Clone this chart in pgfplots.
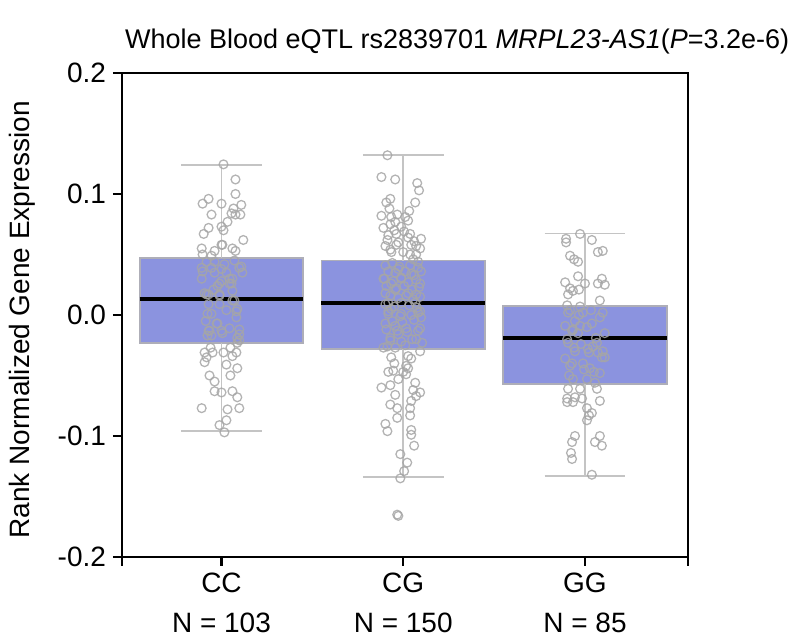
\documentclass[border=0pt]{standalone}
\usepackage{fontspec}
\setmainfont{Liberation Sans}
\usepackage{pgfplots}
\usepackage{pgfplotstable}
\pgfplotsset{compat=1.18}

\definecolor{boxfill}{HTML}{8B93DF}
\definecolor{boxedge}{HTML}{AEAEB8}
\definecolor{whisk}{HTML}{C4C4C4}
\definecolor{ptgray}{HTML}{A6A6A6}

% box statistics: lower whisker, lower quartile, median, upper quartile, upper whisker
% CC: -0.096 -0.023 0.013 0.047 0.124
% CG: -0.134 -0.028 0.010 0.045 0.132
% GG: -0.133 -0.057 -0.019 0.0075 0.0675

% whisker stems and caps (nan breaks the line)
\pgfplotstableread{
x y
1 0.047
1 0.124
nan nan
0.7775 0.124
1.2225 0.124
nan nan
1 -0.023
1 -0.096
nan nan
0.7775 -0.096
1.2225 -0.096
nan nan
2 0.045
2 0.132
nan nan
1.7775 0.132
2.2225 0.132
nan nan
2 -0.028
2 -0.134
nan nan
1.7775 -0.134
2.2225 -0.134
nan nan
3 0.0075
3 0.0675
nan nan
2.7775 0.0675
3.2225 0.0675
nan nan
3 -0.057
3 -0.133
nan nan
2.7775 -0.133
3.2225 -0.133
}\whiskers

% jittered points: x = category position + jitter, y = expression
\pgfplotstableread{
x y
1.011 0.1245
1.077 0.112
1.077 0.100
0.929 0.096
0.896 0.092
1.000 0.092
1.109 0.091
1.066 0.088
1.055 0.084
1.104 0.083
0.945 0.083
1.077 0.083
1.033 0.077
0.929 0.072
0.902 0.067
1.011 0.070
1.000 0.073
1.000 0.058
0.891 0.055
0.962 0.053
1.060 0.055
1.077 0.053
0.896 0.050
1.120 0.062
0.962 0.044
1.016 0.042
0.891 0.039
1.109 0.040
0.962 0.035
1.027 0.035
0.891 0.030
1.060 0.030
1.115 0.035
1.000 0.028
0.978 0.024
1.044 0.026
0.907 0.018
1.060 0.020
0.918 0.017
0.989 0.016
1.071 0.012
0.923 0.001
1.082 0.003
0.978 -0.007
1.098 -0.012
0.934 -0.013
1.087 -0.019
1.005 -0.015
0.923 -0.017
1.087 -0.023
0.896 0.036
0.945 0.039
1.000 0.038
1.044 0.030
1.098 0.039
0.989 0.026
1.055 0.026
0.929 0.017
0.989 0.017
1.060 0.012
0.929 0.009
0.989 0.009
1.087 0.005
0.945 0.001
1.082 -0.002
0.973 -0.007
1.044 -0.011
0.929 -0.013
1.000 -0.013
1.098 -0.016
0.945 -0.017
1.098 -0.021
0.945 0.049
1.005 0.058
0.918 0.044
1.071 0.045
0.956 0.021
1.027 0.004
0.913 -0.005
1.049 -0.027
0.907 -0.031
0.951 -0.031
0.918 -0.035
0.907 -0.039
1.011 -0.031
1.082 -0.031
1.060 -0.034
1.027 -0.041
1.087 -0.044
0.934 -0.050
0.962 -0.055
1.049 -0.050
0.962 -0.063
1.000 -0.064
1.060 -0.063
1.087 -0.068
0.891 -0.077
1.033 -0.078
1.098 -0.077
1.027 -0.087
0.989 -0.091
1.016 -0.097
0.940 -0.027
}\ccpts

\pgfplotstableread{
x y
1.913 0.132
1.880 0.114
1.956 0.112
2.077 0.109
2.087 0.103
1.929 0.096
1.907 0.093
1.880 0.082
1.934 0.081
1.967 0.083
2.011 0.081
2.027 0.078
1.891 0.072
1.929 0.075
1.956 0.077
1.989 0.073
2.038 0.067
1.918 0.066
1.962 0.067
2.098 0.063
1.902 0.057
1.929 0.054
1.962 0.058
2.044 0.058
2.071 0.057
2.093 0.055
2.000 0.052
2.038 0.050
2.055 0.046
2.082 0.044
2.066 0.093
1.924 0.088
2.033 0.086
1.951 0.070
2.005 0.069
1.913 0.062
2.060 0.061
1.973 0.060
2.027 0.064
1.935 0.052
2.071 0.050
1.973 0.038
1.891 0.030
1.934 0.026
1.989 0.030
2.044 0.034
2.093 0.026
1.902 0.018
1.956 0.021
2.027 0.018
2.071 0.017
1.918 0.010
1.989 0.010
2.066 0.010
1.934 0.005
2.093 0.003
1.918 0.003
1.989 0.001
2.082 0.002
1.902 -0.007
1.956 -0.009
2.016 -0.011
2.093 -0.011
1.929 -0.019
1.973 -0.016
2.071 -0.020
1.891 -0.027
1.956 -0.027
1.902 0.041
1.940 0.043
1.978 0.040
2.038 0.041
2.082 0.039
1.918 0.036
1.956 0.035
2.011 0.036
2.060 0.033
2.098 0.036
1.896 0.030
1.945 0.028
1.989 0.031
2.027 0.027
2.071 0.029
1.907 0.024
1.962 0.022
2.005 0.024
2.049 0.021
2.087 0.023
1.929 0.016
1.973 0.014
2.016 0.016
2.055 0.013
2.093 0.015
1.902 0.009
1.951 0.007
2.033 0.008
2.076 0.006
1.918 0.001
1.984 -0.001
2.044 0.000
2.098 -0.002
1.940 -0.005
1.995 -0.006
2.060 -0.004
1.907 -0.012
1.967 -0.013
2.022 -0.014
2.082 -0.013
1.929 -0.021
1.989 -0.022
2.049 -0.020
2.104 -0.023
1.913 -0.026
2.011 -0.025
1.934 -0.035
2.027 -0.034
2.044 -0.036
2.093 -0.030
1.918 -0.047
1.945 -0.046
1.973 -0.053
2.000 -0.047
2.016 -0.049
2.027 -0.044
2.066 -0.056
1.880 -0.060
1.956 -0.066
2.044 -0.071
2.093 -0.064
2.071 -0.067
2.038 -0.077
1.929 -0.074
1.967 -0.077
1.902 -0.090
1.913 -0.096
2.044 -0.095
2.044 -0.099
2.060 -0.108
2.005 -0.129
1.984 -0.135
1.951 -0.040
2.016 -0.042
1.929 -0.058
2.055 -0.062
1.967 -0.085
2.038 -0.083
1.984 -0.115
2.022 -0.122
1.967 -0.165
1.973 -0.166
}\cgpts

\pgfplotstableread{
x y
2.973 0.067
2.896 0.063
2.896 0.060
3.038 0.062
3.071 0.052
3.098 0.053
2.918 0.049
2.940 0.046
2.962 0.044
2.962 0.032
2.891 0.027
3.000 0.026
3.093 0.030
3.071 0.026
3.109 0.025
2.918 0.022
2.934 0.020
2.907 0.017
2.967 0.021
3.082 0.012
2.902 0.008
2.973 0.007
2.907 0.002
2.989 0.002
3.098 0.002
2.945 -0.005
3.038 -0.007
2.891 -0.009
2.973 -0.009
2.929 -0.013
3.109 -0.015
2.962 -0.015
3.066 -0.023
2.907 -0.023
3.016 -0.028
2.945 -0.030
2.940 -0.027
3.022 -0.031
3.071 -0.031
2.891 -0.036
2.989 -0.040
3.093 -0.035
2.918 -0.042
3.027 -0.044
3.109 -0.035
2.934 -0.053
3.011 -0.053
3.055 -0.056
2.918 0.004
2.967 0.000
3.033 0.004
3.082 -0.002
2.935 -0.012
3.011 -0.010
3.060 -0.019
2.902 -0.020
2.978 -0.024
3.044 -0.026
3.098 -0.030
2.929 -0.040
2.995 -0.045
3.049 -0.047
2.913 -0.050
3.082 -0.048
2.907 -0.061
2.973 -0.061
3.066 -0.061
2.902 -0.069
2.945 -0.068
2.984 -0.069
3.082 -0.071
2.934 -0.072
2.902 -0.072
3.011 -0.077
3.038 -0.081
3.022 -0.083
3.011 -0.087
2.945 -0.100
2.929 -0.105
3.082 -0.100
3.055 -0.105
3.093 -0.108
2.923 -0.114
2.929 -0.119
3.038 -0.132
}\ggpts

\begin{document}
\begin{tikzpicture}
\begin{axis}[
    scale only axis,
    width=283pt, height=242pt,
    xmin=0.4525, xmax=3.567,
    ymin=-0.2, ymax=0.2,
    axis line style={line width=1.1pt},
    every tick/.style={black, line width=1.1pt},
    major tick length=4.5pt,
    tick align=outside,
    tick pos=left,
    unbounded coords=jump,
    xtick={1,2,3},
    xticklabels={CC\\[4pt]N = 103, CG\\[4pt]N = 150, GG\\[4pt]N = 85},
    xticklabel style={align=center, font=\fontsize{14}{16}\selectfont},
    extra x ticks={0.4525,3.567},
    extra x tick labels={,},
    ytick={-0.2,-0.1,0,0.1,0.2},
    yticklabels={-0.2,-0.1,0.0,0.1,0.2},
    yticklabel style={font=\fontsize{14}{16}\selectfont},
    ylabel={Rank Normalized Gene Expression},
    ylabel style={at={(axis description cs:-0.177,0.49)}, anchor=center, font=\fontsize{14}{16}\selectfont},
    title={Whole Blood eQTL rs2839701 \textit{MRPL23-AS1}(\textit{P}=3.2e-6)},
    title style={at={(axis description cs:0.592,1)}, anchor=south, yshift=0pt, font=\fontsize{13.5}{16}\selectfont},
]
\coordinate (o) at (rel axis cs:0,0);

% boxes (quartiles)
\addplot[draw=boxedge, fill=boxfill, line width=0.8pt]
    coordinates {(0.55,-0.023) (1.45,-0.023) (1.45,0.047) (0.55,0.047)} -- cycle;
\addplot[draw=boxedge, fill=boxfill, line width=0.8pt]
    coordinates {(1.55,-0.028) (2.45,-0.028) (2.45,0.045) (1.55,0.045)} -- cycle;
\addplot[draw=boxedge, fill=boxfill, line width=0.8pt]
    coordinates {(2.55,-0.057) (3.45,-0.057) (3.45,0.0075) (2.55,0.0075)} -- cycle;

% whiskers
\addplot[draw=whisk, line width=0.8pt] table[x=x, y=y] {\whiskers};

% jittered samples
\addplot[only marks, mark=o, mark size=2.2pt, draw=ptgray, opacity=0.85,
    mark options={line width=0.65pt}] table[x=x, y=y] {\ccpts};
\addplot[only marks, mark=o, mark size=2.2pt, draw=ptgray, opacity=0.85,
    mark options={line width=0.65pt}] table[x=x, y=y] {\cgpts};
\addplot[only marks, mark=o, mark size=2.2pt, draw=ptgray, opacity=0.85,
    mark options={line width=0.65pt}] table[x=x, y=y] {\ggpts};

% medians
\addplot[black, line width=2pt] coordinates {(0.55,0.013) (1.45,0.013)};
\addplot[black, line width=2pt] coordinates {(1.55,0.010) (2.45,0.010)};
\addplot[black, line width=2pt] coordinates {(2.55,-0.019) (3.45,-0.019)};
\end{axis}
\pgfresetboundingbox
\path (o) ++(-61pt,-43pt) rectangle ++(399.5pt,321.5pt);
\end{tikzpicture}
\end{document}
